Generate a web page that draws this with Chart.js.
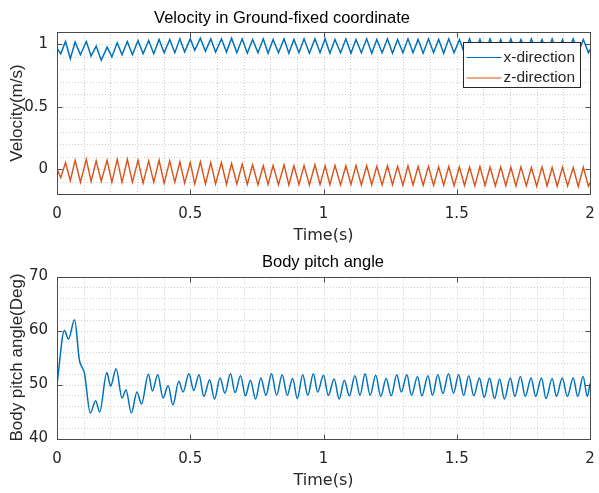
<!DOCTYPE html>
<html>
<head>
<meta charset="utf-8">
<script src="https://cdn.jsdelivr.net/npm/chart.js@4.4.1/dist/chart.umd.min.js"></script>
<style>
  html, body { margin:0; padding:0; background:#fff; }
  canvas { position:absolute; left:0; }
  #chart-vel { top:0; }
  #chart-pitch { top:246px; }
</style>
</head>
<body>
<canvas id="chart-vel" width="599" height="246"></canvas>
<canvas id="chart-pitch" width="599" height="247"></canvas>
<script>
// ---- data (peaks / troughs) ----
const velTime = [
  0.000, 0.014, 0.032, 0.050, 0.068, 0.088, 0.110, 0.128, 0.147, 0.166,
  0.188, 0.206, 0.226, 0.244, 0.264, 0.283, 0.304, 0.323, 0.344, 0.363,
  0.383, 0.402, 0.423, 0.442, 0.461, 0.479, 0.500, 0.517, 0.538, 0.557,
  0.577, 0.595, 0.617, 0.636, 0.655, 0.675, 0.695, 0.714, 0.734, 0.754,
  0.774, 0.792, 0.811, 0.831, 0.852, 0.870, 0.889, 0.908, 0.927, 0.947,
  0.968, 0.987, 1.006, 1.024, 1.043, 1.064, 1.084, 1.103, 1.122, 1.142,
  1.162, 1.181, 1.200, 1.220, 1.240, 1.259, 1.278, 1.298, 1.317, 1.336,
  1.355, 1.374, 1.394, 1.413, 1.432, 1.451, 1.470, 1.490, 1.510, 1.529,
  1.548, 1.568, 1.587, 1.606, 1.625, 1.645, 1.665, 1.684, 1.703, 1.722,
  1.741, 1.761, 1.780, 1.800, 1.820, 1.839, 1.858, 1.877, 1.897, 1.916,
  1.937, 1.956, 1.975, 1.994, 2.000
];
const velX = [
  0.970, 0.925, 1.024, 0.886, 1.019, 0.918, 1.024, 0.907, 0.987, 0.873,
  0.979, 0.900, 1.014, 0.918, 1.024, 0.918, 1.032, 0.926, 1.032, 0.926,
  1.040, 0.934, 1.040, 0.934, 1.045, 0.939, 1.045, 0.953, 1.050, 0.945,
  1.045, 0.939, 1.045, 0.939, 1.050, 0.934, 1.045, 0.930, 1.040, 0.934,
  1.045, 0.930, 1.040, 0.934, 1.045, 0.930, 1.040, 0.934, 1.045, 0.930,
  1.045, 0.934, 1.045, 0.930, 1.040, 0.934, 1.045, 0.930, 1.040, 0.934,
  1.045, 0.930, 1.040, 0.934, 1.045, 0.930, 1.040, 0.934, 1.045, 0.934,
  1.040, 0.930, 1.045, 0.934, 1.040, 0.930, 1.045, 0.934, 1.040, 0.930,
  1.045, 0.934, 1.040, 0.930, 1.045, 0.934, 1.040, 0.930, 1.045, 0.934,
  1.040, 0.930, 1.045, 0.934, 1.040, 0.930, 1.045, 0.934, 1.040, 0.930,
  1.045, 0.934, 1.040, 0.934, 0.960
];
const velZ = [
  0.000, -0.070, 0.053, -0.092, 0.071, -0.106, 0.079, -0.098, 0.066, -0.098,
  0.071, -0.106, 0.079, -0.106, 0.079, -0.106, 0.071, -0.113, 0.066, -0.106,
  0.071, -0.113, 0.066, -0.106, 0.058, -0.113, 0.053, -0.119, 0.058, -0.119,
  0.053, -0.119, 0.053, -0.124, 0.045, -0.119, 0.040, -0.124, 0.035, -0.126,
  0.027, -0.124, 0.030, -0.126, 0.035, -0.128, 0.027, -0.124, 0.030, -0.128,
  0.035, -0.124, 0.027, -0.126, 0.030, -0.128, 0.027, -0.124, 0.030, -0.128,
  0.027, -0.126, 0.022, -0.128, 0.027, -0.126, 0.022, -0.130, 0.027, -0.128,
  0.020, -0.130, 0.022, -0.132, 0.018, -0.130, 0.022, -0.134, 0.018, -0.132,
  0.015, -0.135, 0.020, -0.132, 0.015, -0.136, 0.018, -0.134, 0.015, -0.136,
  0.018, -0.135, 0.013, -0.138, 0.018, -0.136, 0.013, -0.138, 0.016, -0.136,
  0.013, -0.140, 0.015, -0.138, -0.110
];
const pitchTime = [
  0.000, 0.028, 0.043, 0.066, 0.084, 0.095, 0.103, 0.125, 0.145, 0.160,
  0.187, 0.201, 0.222, 0.244, 0.259, 0.279, 0.300, 0.317, 0.343, 0.358,
  0.378, 0.398, 0.417, 0.435, 0.457, 0.473, 0.495, 0.513, 0.533, 0.551,
  0.573, 0.591, 0.612, 0.630, 0.651, 0.668, 0.689, 0.707, 0.726, 0.745,
  0.765, 0.784, 0.805, 0.824, 0.845, 0.864, 0.884, 0.902, 0.922, 0.941,
  0.962, 0.978, 1.000, 1.018, 1.040, 1.059, 1.078, 1.097, 1.118, 1.137,
  1.156, 1.175, 1.196, 1.215, 1.235, 1.254, 1.275, 1.292, 1.313, 1.330,
  1.353, 1.369, 1.392, 1.409, 1.429, 1.448, 1.469, 1.488, 1.507, 1.526,
  1.545, 1.564, 1.585, 1.603, 1.623, 1.642, 1.661, 1.679, 1.701, 1.718,
  1.739, 1.757, 1.779, 1.796, 1.818, 1.835, 1.858, 1.874, 1.896, 1.915,
  1.937, 1.954, 1.974, 1.990, 2.000
];
const pitchAngle = [
  50.0, 60.0, 58.4, 62.0, 54.5, 53.1, 52.1, 44.7, 47.0, 44.9,
  52.2, 49.7, 52.9, 47.5, 49.0, 44.7, 48.6, 46.4, 51.9, 48.8,
  51.8, 47.5, 49.8, 46.2, 50.6, 48.6, 52.0, 48.9, 51.8, 47.8,
  50.9, 47.3, 51.2, 48.4, 52.0, 48.5, 51.6, 47.9, 50.8, 47.3,
  51.2, 48.0, 52.0, 48.0, 51.8, 48.0, 51.1, 47.4, 51.8, 48.0,
  52.0, 48.6, 51.7, 48.0, 51.0, 47.3, 50.8, 47.9, 51.6, 48.0,
  52.0, 48.0, 51.7, 47.8, 51.1, 47.9, 51.8, 48.6, 51.8, 48.0,
  51.5, 47.9, 51.6, 48.0, 51.8, 48.3, 52.0, 48.4, 51.8, 48.0,
  51.6, 47.9, 51.2, 47.6, 51.2, 47.4, 51.0, 47.3, 51.2, 47.8,
  51.5, 47.8, 51.2, 47.8, 51.2, 47.4, 51.1, 47.8, 51.2, 47.8,
  51.2, 47.8, 51.5, 47.8, 50.2
];

const timeTicks = [0, 0.5, 1, 1.5, 2];
const timeLabels = ['0', '0.5', '1', '1.5', '2'];
const timeMinor = [0.1, 0.2, 0.3, 0.4, 0.6, 0.7, 0.8, 0.9, 1.1, 1.2, 1.3, 1.4, 1.6, 1.7, 1.8, 1.9];
const velTicks = [0, 0.5, 1];
const velLabels = ['0', '0.5', '1'];
const velMinor = [-0.1, 0.1, 0.2, 0.3, 0.4, 0.6, 0.7, 0.8, 0.9];
const pitchTicks = [40, 50, 60, 70];
const pitchLabels = ['40', '50', '60', '70'];
const pitchMinor = [42, 44, 46, 48, 52, 54, 56, 58, 62, 64, 66, 68];

const INK = '#262626';
const SANS = "'Liberation Sans', Arial, Helvetica, sans-serif";
const WIDE = "'DejaVu Sans', 'Liberation Sans', sans-serif";
const BLUE = '#0072BD', ORANGE = '#D95319';

const pts = (xs, ys) => xs.map((t, i) => ({ x: t, y: ys[i] }));

function seg(ctx, x1, y1, x2, y2) {
  ctx.beginPath(); ctx.moveTo(x1, y1); ctx.lineTo(x2, y2); ctx.stroke();
}

// MATLAB-like axes: dotted grid, box with inward ticks on all four sides
const axesFrame = {
  id: 'axesFrame',
  afterLayout(chart, args, o) {
    // move the title block so its centre sits where the figure has it
    const tb = chart.titleBlock;
    if (!tb || o.titleX == null) return;
    const half = (tb.right - tb.left) / 2;
    tb.left = o.titleX - half;
    tb.right = o.titleX + half;
  },
  beforeDatasetsDraw(chart, args, o) {
    const { ctx, chartArea: a, scales: { x, y } } = chart;
    const px = v => Math.round(x.getPixelForValue(v)) + 0.5;
    const py = v => Math.round(y.getPixelForValue(v)) + 0.5;
    ctx.save();
    ctx.lineWidth = 1;
    ctx.strokeStyle = '#cdcdcd';
    ctx.setLineDash([1, 2]);
    o.xMajor.concat(o.xMinor).forEach(v => seg(ctx, px(v), a.top, px(v), a.bottom));
    o.yMajor.concat(o.yMinor).forEach(v => seg(ctx, a.left, py(v), a.right, py(v)));
    ctx.restore();
  },
  afterDatasetsDraw(chart, args, o) {
    const { ctx, chartArea: a, scales: { x, y } } = chart;
    const px = v => Math.round(x.getPixelForValue(v)) + 0.5;
    const py = v => Math.round(y.getPixelForValue(v)) + 0.5;
    const L = Math.round(a.left) + 0.5, R = Math.round(a.right) + 0.5;
    const T = Math.round(a.top) + 0.5, B = Math.round(a.bottom) + 0.5;
    ctx.save();
    ctx.lineWidth = 1;
    ctx.strokeStyle = '#4a4a4a';
    ctx.strokeRect(L, T, R - L, B - T);
    o.xMajor.forEach(v => { seg(ctx, px(v), B, px(v), B - 5); seg(ctx, px(v), T, px(v), T + 5); });
    o.yMajor.forEach(v => { seg(ctx, L, py(v), L + 5, py(v)); seg(ctx, R, py(v), R - 5, py(v)); });
    ctx.restore();
  }
};

// boxed legend in the upper right corner of the axes
const legendBox = {
  id: 'legendBox',
  afterDatasetsDraw(chart) {
    const { ctx, chartArea: a } = chart;
    const x0 = Math.round(a.right - 127) + 0.5, y0 = Math.round(a.top + 10) + 0.5;
    const w = 117, h = 45;
    ctx.save();
    ctx.fillStyle = '#fff';
    ctx.fillRect(x0, y0, w, h);
    ctx.strokeStyle = INK; ctx.lineWidth = 1;
    ctx.strokeRect(x0, y0, w, h);
    ctx.font = `15.5px ${SANS}`;
    ctx.textBaseline = 'middle'; ctx.textAlign = 'left';
    chart.data.datasets.forEach((ds, i) => {
      const cy = y0 + 15 + i * 20.5;
      ctx.strokeStyle = ds.borderColor; ctx.lineWidth = 1.2;
      seg(ctx, x0 + 3, cy, x0 + 38, cy);
      ctx.fillStyle = INK;
      ctx.fillText(ds.label, x0 + 40, cy);
    });
    ctx.restore();
  }
};

function axesOptions(cfg) {
  return {
    responsive: false,
    animation: false,
    devicePixelRatio: 1,
    layout: { padding: { left: 0, right: 9, top: 0, bottom: 0 } },
    plugins: {
      legend: { display: false },
      tooltip: { enabled: false },
      title: {
        display: true, text: cfg.title, color: '#000',
        font: { family: SANS, size: 16.5, weight: 'normal' },
        padding: cfg.titlePad
      },
      axesFrame: { xMajor: timeTicks, xMinor: timeMinor, yMajor: cfg.yTicks, yMinor: cfg.yMinor, titleX: cfg.titleX }
    },
    scales: {
      x: {
        type: 'linear', min: 0, max: 2,
        afterBuildTicks: s => { s.ticks = timeTicks.map(v => ({ value: v })); },
        afterFit: s => { s.height = cfg.xHeight; s.paddingLeft = 0; s.paddingRight = 0; },
        grid: { display: false, drawTicks: false },
        border: { display: false },
        ticks: { color: INK, font: { family: WIDE, size: 15 }, padding: 11.5, maxRotation: 0, autoSkip: false,
                 callback: (v, i) => timeLabels[i] },
        title: { display: true, text: 'Time(s)', color: INK, font: { family: WIDE, size: 16 },
                 padding: { top: 0, bottom: cfg.xTitleBottom } }
      },
      y: {
        type: 'linear', min: cfg.yMin, max: cfg.yMax,
        afterBuildTicks: s => { s.ticks = cfg.yTicks.map(v => ({ value: v })); },
        afterFit: s => { s.width = 57; },
        grid: { display: false, drawTicks: false },
        border: { display: false },
        ticks: { color: INK, font: { family: WIDE, size: 15 }, padding: 9, autoSkip: false,
                 callback: (v, i) => cfg.yLabels[i] },
        title: { display: true, text: cfg.yTitle, color: INK, font: { family: SANS, size: 17 },
                 padding: { top: 7, bottom: 0 } }
      }
    }
  };
}

new Chart(document.getElementById('chart-vel'), {
  type: 'line',
  data: {
    datasets: [
      { label: 'x-direction', data: pts(velTime, velX), borderColor: BLUE, borderWidth: 1.5, pointRadius: 0, tension: 0 },
      { label: 'z-direction', data: pts(velTime, velZ), borderColor: ORANGE, borderWidth: 1.4, pointRadius: 0, tension: 0 }
    ]
  },
  options: axesOptions({
    title: 'Velocity in Ground-fixed coordinate', titlePad: { top: 8.5, bottom: 3.7 }, titleX: 282,
    yTitle: 'Velocity(m/s)', yMin: -0.2, yMax: 1.1, yTicks: velTicks, yLabels: velLabels, yMinor: velMinor,
    xHeight: 52, xTitleBottom: 0.5
  }),
  plugins: [axesFrame, legendBox]
});

new Chart(document.getElementById('chart-pitch'), {
  type: 'line',
  data: {
    datasets: [
      { label: 'pitch', data: pts(pitchTime, pitchAngle), borderColor: BLUE, borderWidth: 1.5, pointRadius: 0,
        cubicInterpolationMode: 'monotone' }
    ]
  },
  options: axesOptions({
    title: 'Body pitch angle', titlePad: { top: 7, bottom: 3.7 }, titleX: 323,
    yTitle: 'Body pitch angle(Deg)', yMin: 40, yMax: 70, yTicks: pitchTicks, yLabels: pitchLabels, yMinor: pitchMinor,
    xHeight: 54.5, xTitleBottom: 2.9
  }),
  plugins: [axesFrame]
});
</script>
</body>
</html>
